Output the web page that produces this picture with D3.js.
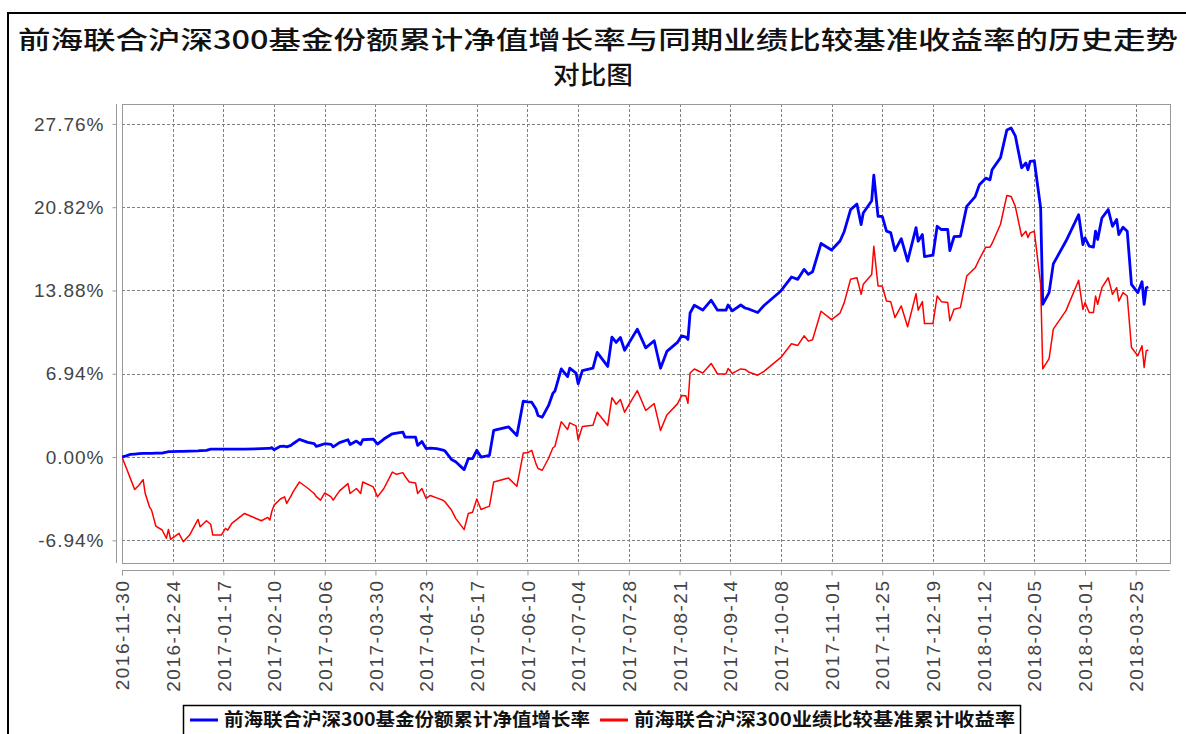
<!DOCTYPE html>
<html>
<head>
<meta charset="utf-8">
<script src="https://cdn.jsdelivr.net/npm/d3@7"></script>
<style>
  html, body { margin: 0; padding: 0; background: #fff; }
  svg { display: block; }
</style>
</head>
<body>
<svg id="chart" width="1186" height="734"></svg>
<script>
// trading dates (sampled at the visible turning points)
const dates = [
  "2016-11-30","2016-12-02","2016-12-04","2016-12-06","2016-12-08","2016-12-10","2016-12-11","2016-12-13","2016-12-14","2016-12-16",
  "2016-12-19","2016-12-21","2016-12-22","2016-12-23","2016-12-27","2016-12-29","2017-01-01","2017-01-05","2017-01-06","2017-01-09",
  "2017-01-11","2017-01-12","2017-01-16","2017-01-18","2017-01-19","2017-01-21","2017-01-27","2017-02-04","2017-02-07","2017-02-08",
  "2017-02-09","2017-02-10","2017-02-13","2017-02-15","2017-02-16","2017-02-18","2017-02-19","2017-02-22","2017-02-26","2017-03-01",
  "2017-03-02","2017-03-04","2017-03-06","2017-03-09","2017-03-10","2017-03-13","2017-03-17","2017-03-18","2017-03-21","2017-03-23",
  "2017-03-24","2017-03-29","2017-03-31","2017-04-03","2017-04-07","2017-04-09","2017-04-12","2017-04-13","2017-04-15","2017-04-18",
  "2017-04-19","2017-04-21","2017-04-23","2017-04-25","2017-04-28","2017-05-01","2017-05-02","2017-05-05","2017-05-07","2017-05-11",
  "2017-05-13","2017-05-15","2017-05-17","2017-05-19","2017-05-23","2017-05-25","2017-06-01","2017-06-05","2017-06-08","2017-06-10",
  "2017-06-12","2017-06-14","2017-06-15","2017-06-17","2017-06-20","2017-06-22","2017-06-23","2017-06-26","2017-06-29","2017-06-30",
  "2017-07-03","2017-07-04","2017-07-06","2017-07-11","2017-07-13","2017-07-18","2017-07-20","2017-07-22","2017-07-24","2017-07-26",
  "2017-08-01","2017-08-05","2017-08-09","2017-08-12","2017-08-15","2017-08-20","2017-08-22","2017-08-24","2017-08-25","2017-08-26",
  "2017-08-28","2017-09-01","2017-09-05","2017-09-08","2017-09-12","2017-09-13","2017-09-15","2017-09-19","2017-09-21","2017-09-23",
  "2017-09-27","2017-09-30","2017-10-08","2017-10-13","2017-10-16","2017-10-19","2017-10-21","2017-10-23","2017-10-27","2017-11-01",
  "2017-11-05","2017-11-07","2017-11-10","2017-11-13","2017-11-15","2017-11-16","2017-11-20","2017-11-21","2017-11-23","2017-11-25",
  "2017-11-27","2017-11-29","2017-12-01","2017-12-04","2017-12-07","2017-12-11","2017-12-12","2017-12-14","2017-12-15","2017-12-19",
  "2017-12-21","2017-12-23","2017-12-26","2017-12-27","2017-12-29","2018-01-01","2018-01-04","2018-01-08","2018-01-10","2018-01-13",
  "2018-01-15","2018-01-16","2018-01-20","2018-01-23","2018-01-25","2018-01-27","2018-01-30","2018-02-01","2018-02-02","2018-02-03",
  "2018-02-05","2018-02-08","2018-02-09","2018-02-12","2018-02-14","2018-02-20","2018-02-26","2018-02-28","2018-03-01","2018-03-03",
  "2018-03-05","2018-03-06","2018-03-07","2018-03-09","2018-03-12","2018-03-14","2018-03-16","2018-03-17","2018-03-19","2018-03-21",
  "2018-03-23","2018-03-26","2018-03-28","2018-03-29","2018-03-30","2018-03-31"
];

// 基金份额累计净值增长率 (%)
const fundGrowth = [
  0.00,0.10,0.22,0.25,0.28,0.30,0.30,0.30,0.31,0.32,
  0.33,0.40,0.45,0.45,0.47,0.48,0.50,0.52,0.53,0.56,
  0.66,0.66,0.66,0.66,0.66,0.66,0.66,0.70,0.72,0.72,
  0.78,0.61,0.89,0.90,0.85,0.97,1.11,1.47,1.22,1.11,
  0.89,1.00,1.11,1.05,0.85,1.20,1.44,1.05,1.33,1.05,
  1.44,1.50,1.08,1.50,1.94,2.00,2.08,1.66,1.66,1.66,
  0.97,1.30,0.70,0.75,0.70,0.58,0.50,-0.20,-0.40,-1.05,
  -0.13,-0.13,0.56,0.00,0.14,2.22,2.52,1.80,4.65,4.60,
  4.57,4.00,3.46,3.32,4.30,5.30,5.50,7.34,6.70,7.40,
  7.00,6.10,7.20,7.40,8.72,7.55,10.00,9.55,9.96,8.90,
  10.66,9.10,9.69,7.40,8.80,9.55,10.10,10.00,9.80,12.00,
  12.65,12.25,13.07,12.24,12.24,12.67,12.18,12.67,12.42,12.32,
  12.04,12.63,13.84,15.00,14.81,15.64,15.22,15.44,17.80,17.25,
  18.00,18.80,20.62,21.08,19.37,20.34,21.36,23.50,20.06,20.06,
  18.82,18.70,17.20,18.20,16.33,19.12,17.99,18.54,16.70,16.82,
  19.23,18.96,18.96,17.20,18.36,18.40,20.89,21.70,22.69,23.24,
  23.10,23.94,24.95,27.26,27.42,26.77,24.10,24.50,23.94,24.63,
  24.69,20.75,12.73,13.70,16.10,18.00,20.20,17.71,18.26,17.57,
  17.49,18.82,18.13,19.92,20.62,19.23,19.79,18.54,19.15,18.82,
  14.39,13.70,14.61,12.73,14.11,14.17
];

// 业绩比较基准累计收益率 (%)
const benchReturn = [
  0.00,-0.90,-1.80,-2.71,-2.35,-1.88,-3.04,-4.15,-4.42,-5.75,
  -6.08,-6.77,-6.03,-6.86,-6.36,-7.06,-6.50,-5.20,-5.81,-5.31,
  -5.60,-6.50,-6.50,-5.94,-6.10,-5.53,-4.70,-5.31,-5.03,-5.25,
  -4.50,-4.01,-3.50,-3.32,-3.87,-3.26,-2.90,-2.08,-2.60,-3.04,
  -3.30,-3.59,-2.99,-3.32,-3.59,-2.82,-2.21,-3.04,-2.62,-3.04,
  -2.08,-2.49,-3.32,-2.62,-1.25,-1.44,-1.30,-1.60,-2.08,-2.16,
  -3.04,-2.62,-3.45,-3.20,-3.40,-3.60,-3.74,-4.42,-5.11,-6.05,
  -4.70,-4.60,-3.50,-4.37,-4.09,-2.08,-1.75,-2.43,0.33,0.35,
  0.56,-0.55,-0.96,-1.10,-0.10,0.75,0.90,2.95,2.30,2.85,
  2.60,1.42,2.55,2.65,3.74,2.63,4.95,4.40,4.80,3.74,
  5.54,3.88,4.45,2.22,3.50,4.43,5.12,5.10,4.48,7.00,
  7.34,7.00,7.80,6.92,6.92,7.38,6.97,7.34,7.30,7.06,
  6.82,7.14,8.30,9.44,9.30,10.10,9.66,9.78,12.15,11.45,
  12.00,12.87,14.81,14.94,13.56,14.39,15.22,17.57,14.25,14.25,
  13.00,12.95,11.62,12.59,10.85,13.61,12.24,12.95,11.12,11.12,
  13.42,12.95,12.87,11.35,12.32,12.45,15.08,15.77,16.50,17.49,
  17.49,17.80,19.40,21.80,21.72,20.89,18.40,18.82,18.30,18.68,
  18.82,14.40,7.34,8.20,10.66,12.20,14.73,12.30,12.87,12.04,
  12.04,13.42,12.73,14.11,14.94,13.56,14.11,13.00,13.70,13.42,
  9.13,8.44,9.27,7.47,8.86,8.92
];

const yTicks = [-6.94, 0, 6.94, 13.88, 20.82, 27.76];
const xTickStart = "2016-11-30";
const xTickStepDays = 24;
const xTickCount = 21;

const titleLines = ["前海联合沪深300基金份额累计净值增长率与同期业绩比较基准收益率的历史走势", "对比图"];
const seriesNames = ["前海联合沪深300基金份额累计净值增长率", "前海联合沪深300业绩比较基准累计收益率"];
const seriesColors = ["#0000ff", "#ff0000"];

const parse = d3.timeParse("%Y-%m-%d");
const fmt = d3.timeFormat("%Y-%m-%d");

const svg = d3.select("#chart");
const plot = { left: 122, right: 1170, top: 104, bottom: 563 };

const x = d3.scaleTime()
  .domain([parse(xTickStart), d3.timeHour.offset(d3.timeDay.offset(parse(xTickStart), 496), 6)])
  .range([plot.left, plot.right]);
const y = d3.scaleLinear().domain([-8.83, 29.42]).range([plot.bottom, plot.top]);

const xTicks = d3.range(xTickCount).map((i) => d3.timeDay.offset(parse(xTickStart), i * xTickStepDays));

// outer border
svg.append("path")
  .attr("d", "M8,740 L8,13 L1190,13")
  .attr("fill", "none")
  .attr("stroke", "#000")
  .attr("stroke-width", 2);

// title (two lines)
svg.append("text")
  .attr("x", 18).attr("y", 49)
  .attr("textLength", 1160).attr("lengthAdjust", "spacingAndGlyphs")
  .attr("font-family", "'Noto Sans CJK SC', sans-serif")
  .attr("font-size", 25).attr("font-weight", 500).attr("fill", "#111")
  .text(titleLines[0]);
svg.append("text")
  .attr("x", 593).attr("y", 84)
  .attr("text-anchor", "middle")
  .attr("textLength", 80).attr("lengthAdjust", "spacingAndGlyphs")
  .attr("font-family", "'Noto Sans CJK SC', sans-serif")
  .attr("font-size", 25).attr("font-weight", 500).attr("fill", "#111")
  .text(titleLines[1]);

// plot background + grid
svg.append("rect")
  .attr("x", plot.left).attr("y", plot.top)
  .attr("width", plot.right - plot.left).attr("height", plot.bottom - plot.top)
  .attr("fill", "#fff");

const grid = svg.append("g").attr("stroke", "#808080").attr("stroke-width", 1).attr("stroke-dasharray", "3,2");
grid.selectAll("line.v").data(xTicks).join("line")
  .attr("class", "v")
  .attr("x1", (d) => Math.round(x(d)) + 0.5).attr("x2", (d) => Math.round(x(d)) + 0.5)
  .attr("y1", plot.top).attr("y2", plot.bottom);
grid.selectAll("line.h").data(yTicks).join("line")
  .attr("class", "h")
  .attr("y1", (d) => Math.round(y(d)) + 0.5).attr("y2", (d) => Math.round(y(d)) + 0.5)
  .attr("x1", plot.left).attr("x2", plot.right);

svg.append("rect")
  .attr("x", plot.left + 0.5).attr("y", plot.top + 0.5)
  .attr("width", plot.right - plot.left).attr("height", plot.bottom - plot.top)
  .attr("fill", "none").attr("stroke", "#999");

// axes
const yAxis = d3.axisLeft(y).tickValues(yTicks).tickSize(4).tickPadding(8)
  .tickFormat((d) => d.toFixed(2) + "%");
const gy = svg.append("g").attr("transform", "translate(116.5,0)").call(yAxis);
gy.select(".domain").attr("d", `M0,${plot.top}V${plot.bottom}`).attr("stroke", "#999");
gy.selectAll(".tick line").attr("stroke", "#999");
gy.selectAll(".tick text")
  .attr("font-family", "'Liberation Sans', Arial, sans-serif")
  .attr("font-size", 19).attr("letter-spacing", 1).attr("fill", "#444");

const xAxis = d3.axisBottom(x).tickValues(xTicks).tickSize(5).tickFormat(fmt);
const gx = svg.append("g").attr("transform", "translate(0,570.5)").call(xAxis);
gx.select(".domain").attr("d", `M${plot.left},0H${plot.right}`).attr("stroke", "#999");
gx.selectAll(".tick line").attr("stroke", "#999");
gx.selectAll(".tick text")
  .attr("font-family", "'Liberation Sans', Arial, sans-serif")
  .attr("font-size", 19).attr("letter-spacing", 1.5).attr("fill", "#444")
  .attr("text-anchor", "end")
  .attr("transform", "rotate(-90)")
  .attr("x", -9).attr("y", 0).attr("dy", "0.35em");

// series
const rows = dates.map((d, i) => ({ date: parse(d), fund: fundGrowth[i], bench: benchReturn[i] }));
svg.append("clipPath").attr("id", "plotClip").append("rect")
  .attr("x", plot.left).attr("y", plot.top)
  .attr("width", plot.right - plot.left).attr("height", plot.bottom - plot.top);

const lines = svg.append("g").attr("clip-path", "url(#plotClip)");
lines.append("path")
  .datum(rows)
  .attr("fill", "none").attr("stroke", seriesColors[1]).attr("stroke-width", 1.5)
  .attr("stroke-linejoin", "round")
  .attr("d", d3.line().x((d) => x(d.date)).y((d) => y(d.bench)));
lines.append("path")
  .datum(rows)
  .attr("fill", "none").attr("stroke", seriesColors[0]).attr("stroke-width", 2.8)
  .attr("stroke-linejoin", "round")
  .attr("d", d3.line().x((d) => x(d.date)).y((d) => y(d.fund)));

// legend
const legend = svg.append("g");
legend.append("rect")
  .attr("x", 183.5).attr("y", 705.5).attr("width", 837).attr("height", 40)
  .attr("fill", "#fff").attr("stroke", "#000").attr("stroke-width", 1.5);
const legendItems = [
  { x: 190, textX: 224, width: 366 },
  { x: 600, textX: 634, width: 381 },
];
legendItems.forEach((it, i) => {
  legend.append("line")
    .attr("x1", it.x).attr("x2", it.x + 28).attr("y1", 720).attr("y2", 720)
    .attr("stroke", seriesColors[i]).attr("stroke-width", 3);
  legend.append("text")
    .attr("x", it.textX).attr("y", 720).attr("dy", "0.36em")
    .attr("textLength", it.width).attr("lengthAdjust", "spacingAndGlyphs")
    .attr("font-family", "'Noto Sans CJK SC', sans-serif")
    .attr("font-size", 18).attr("font-weight", 700).attr("fill", "#111")
    .text(seriesNames[i]);
});
</script>
</body>
</html>
